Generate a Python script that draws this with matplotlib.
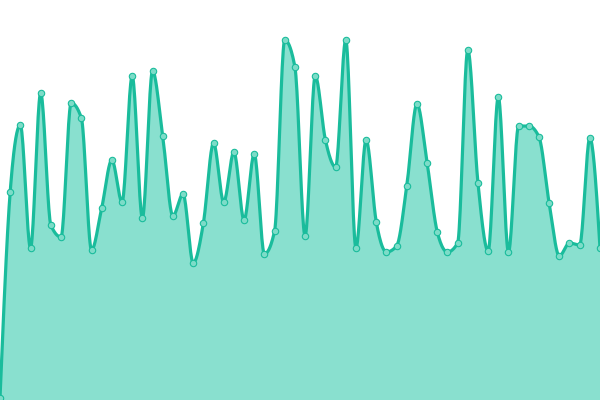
import numpy as np
import matplotlib
matplotlib.use("Agg")
import matplotlib.pyplot as plt

# --- data (height above the bottom edge in px units) ---
x = list(range(60))
values = [2, 208, 275, 152, 307, 175, 163, 297, 282, 150,
          192, 240, 198, 324, 182, 329, 264, 184, 206, 137,
          177, 257, 198, 248, 180, 246, 146, 169, 360, 333,
          164, 324, 260, 233, 360, 152, 260, 178, 148, 154,
          214, 296, 237, 168, 148, 157, 350, 217, 149, 303,
          148, 274, 274, 263, 197, 144, 157, 155, 262, 152]

LINE_COLOR = "#1abc9c"
FILL_COLOR = "#89e0cf"
MARKER_FACE = "#7ddcc8"


def monotone_curve(xs, ys, steps=20):
    """Monotone cubic (d3 curveMonotoneX style) through the points."""
    xs = np.asarray(xs, dtype=float)
    ys = np.asarray(ys, dtype=float)
    n = len(xs)
    h = np.diff(xs)
    d = np.diff(ys) / h
    m = np.zeros(n)
    for i in range(1, n - 1):
        if d[i - 1] * d[i] <= 0:
            continue  # local extremum: flat tangent
        p = (d[i - 1] * h[i] + d[i] * h[i - 1]) / (h[i - 1] + h[i])
        m[i] = np.sign(d[i - 1]) * min(2 * abs(d[i - 1]), 2 * abs(d[i]), abs(p))
    m[0] = (3 * d[0] - m[1]) / 2
    m[-1] = (3 * d[-1] - m[-2]) / 2
    out_x, out_y = [], []
    for i in range(n - 1):
        t = np.linspace(0, 1, steps, endpoint=(i == n - 2))
        h00 = 2 * t**3 - 3 * t**2 + 1
        h10 = t**3 - 2 * t**2 + t
        h01 = -2 * t**3 + 3 * t**2
        h11 = t**3 - t**2
        out_x.append(xs[i] + t * h[i])
        out_y.append(h00 * ys[i] + h10 * h[i] * m[i] + h01 * ys[i + 1] + h11 * h[i] * m[i + 1])
    return np.concatenate(out_x), np.concatenate(out_y)


cx, cy = monotone_curve(x, values)

fig = plt.figure(figsize=(6, 4), dpi=100)
ax = fig.add_axes([0, 0, 1, 1])
ax.fill_between(cx, 0, cy, color=FILL_COLOR, linewidth=0, zorder=1)
ax.plot(cx, cy, color=LINE_COLOR, linewidth=2.3, zorder=2, solid_capstyle="round")
ax.plot(x, values, linestyle="none", marker="o", markersize=4.6,
        markerfacecolor=MARKER_FACE, markeredgecolor=LINE_COLOR,
        markeredgewidth=0.8, zorder=3, clip_on=False)
ax.set_xlim(0, 59)
ax.set_ylim(0, 400)
ax.axis("off")

fig.savefig("out.png", dpi=100)
